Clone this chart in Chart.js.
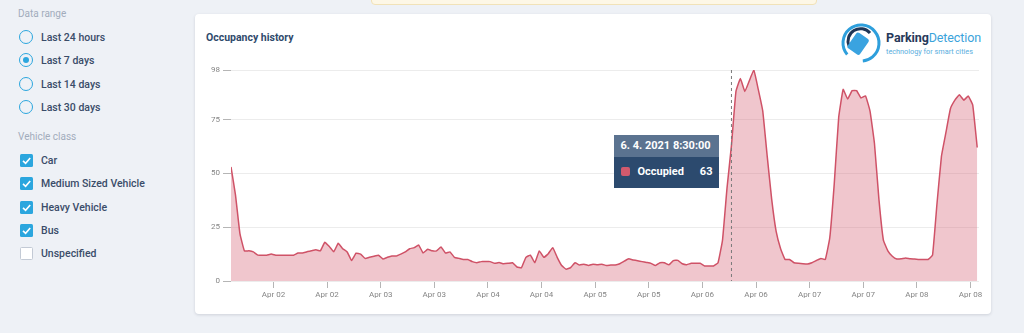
<!DOCTYPE html>
<html>
<head>
<meta charset="utf-8">
<script src="https://cdn.jsdelivr.net/npm/chart.js@4.4.0/dist/chart.umd.min.js"></script>
<style>
  body { margin: 0; width: 1024px; height: 333px; background: #eef1f6; font-family: Roboto, sans-serif; position: relative; overflow: hidden; }
  .notice { position: absolute; left: 371px; top: -6px; width: 444px; height: 9px; background: #fdf7e6; border: 1px solid #f1e2b8; border-radius: 4px; }
  .side { position: absolute; left: 18px; top: 0; }
  .side .head { position: absolute; left: 0; font-size: 10px; color: #a2acbc; white-space: nowrap; }
  .opt { position: absolute; left: 1px; height: 16px; white-space: nowrap; font-size: 10.5px; font-weight: 500; color: #3a4c69; }
  .opt span { position: absolute; left: 22px; top: 1px; }
  .radio { position: absolute; left: 0; top: 0; width: 12px; height: 12px; border: 1.6px solid #2ba6de; border-radius: 50%; }
  .radio.on::after { content: ''; position: absolute; left: 3px; top: 3px; width: 6px; height: 6px; border-radius: 50%; background: #2ba6de; }
  .check { position: absolute; left: 1px; top: 1px; width: 13px; height: 13px; border-radius: 1.5px; background: #2ba6de; }
  .check svg { position: absolute; left: 0; top: 0; }
  .check.off { background: #fff; border: 1.4px solid #c3cad5; width: 10.5px; height: 10.5px; }
  .card { position: absolute; left: 195px; top: 14px; width: 796px; height: 300px; background: #fff; border-radius: 4px; box-shadow: 0 1px 3px rgba(60,70,90,0.18); }
  .title { position: absolute; left: 206px; top: 31px; font-size: 10.5px; font-weight: 700; color: #2f4a6c; }
  .logo { position: absolute; left: 840px; top: 22px; }
  .logo .name { position: absolute; left: 46px; top: 8px; font-size: 12.5px; white-space: nowrap; color: #3aa3db; letter-spacing: -0.1px; }
  .logo .name b { color: #27395a; font-weight: 700; }
  .logo .sub { position: absolute; left: 46px; top: 25px; font-size: 7.3px; white-space: nowrap; color: #5aaede; }
  #wrap { position: absolute; left: 196px; top: 55px; width: 794px; height: 255px; }
  #tip { position: absolute; display: none; width: 105px; color: #fff; font-weight: 700; font-size: 11px; }
  #tip .tip-head { background: #5b7390; height: 22px; line-height: 22px; padding-left: 6px; }
  #tip .tip-body { background: #2c4a6e; height: 31px; position: relative; }
  #tip .sw { position: absolute; left: 7px; top: 10px; width: 9px; height: 9px; border-radius: 2px; background: #d25a6d; }
  #tip .tip-label { position: absolute; left: 23px; top: 8px; }
  #tip .tip-value { position: absolute; right: 7px; top: 8px; }
</style>
</head>
<body>
<div class="notice"></div>

<div class="side">
  <div class="head" style="top:8px">Data range</div>
  <div class="opt" style="top:30px"><div class="radio"></div><span>Last 24 hours</span></div>
  <div class="opt" style="top:53px"><div class="radio on"></div><span>Last 7 days</span></div>
  <div class="opt" style="top:77px"><div class="radio"></div><span>Last 14 days</span></div>
  <div class="opt" style="top:100px"><div class="radio"></div><span>Last 30 days</span></div>
  <div class="head" style="top:131px">Vehicle class</div>
  <div id="classes"></div>
</div>

<div class="card"></div>
<div class="title">Occupancy history</div>
<div class="logo">
  <svg width="42" height="42" viewBox="0 0 42 42">
    <circle cx="21" cy="21" r="18" fill="none" stroke="#2e9fdc" stroke-width="3" stroke-dasharray="95 18" transform="rotate(140 21 21)"/>
    <path d="M 9 24 A 12.5 12.5 0 0 1 30 11" fill="none" stroke="#1f3556" stroke-width="3"/>
    <rect x="11" y="12" width="15" height="19" rx="2.5" fill="#3aa3e0" transform="rotate(35 18 21)"/>
  </svg>
  <div class="name"><b>Parking</b>Detection</div>
  <div class="sub">technology for smart cities</div>
</div>

<div id="wrap"><canvas id="occupancy"></canvas></div>
<div id="tip">
  <div class="tip-head"></div>
  <div class="tip-body"><div class="sw"></div><div class="tip-label"></div><div class="tip-value"></div></div>
</div>

<script>
// vehicle classes shown in the side panel
const vehicleClasses = ['Car', 'Medium Sized Vehicle', 'Heavy Vehicle', 'Bus', 'Unspecified'];
const vehicleChecked = [true, true, true, true, false];

// hourly samples, first one is 1. 4. 2021 16:30
const startTime = Date.UTC(2021, 3, 1, 16, 30);
const stepHours = 1;
const occupied = [
  53, 40, 22, 14, 14, 13.5, 12, 12, 12, 12.5, 12, 12, 12, 12, 12, 13,
  13, 13.6, 14, 14.5, 14, 18, 16, 13.6, 17.5, 15, 13.5, 9.5, 12.9, 12.5, 10.5, 11,
  11.5, 12, 10.2, 11, 11.6, 11.6, 12.5, 13.5, 15, 15.5, 16.7, 13, 14.7, 14, 14, 15.8,
  13, 13.5, 11, 10.5, 10, 10, 9, 8.5, 9, 9, 9, 8.2, 8.6, 8, 8.2, 8.5,
  6.5, 6.2, 11, 12, 8.5, 14, 11, 12.7, 15.5, 11, 7.2, 5.5, 6.2, 8.5, 7.4, 7.8,
  7.2, 7.8, 7.5, 7.8, 7.2, 7.4, 7.4, 8, 9.2, 10.3, 9.8, 9.4, 9, 8.6, 8.2, 7.2,
  8.5, 8.5, 7.5, 9.5, 9.6, 8, 7.6, 8.2, 8.2, 8.2, 7, 7, 7, 8.5, 19, 43,
  63, 88, 94, 88, 93, 98, 89, 79, 58, 38, 23, 15, 10, 10, 8.5, 8.2,
  8, 7.9, 8.5, 9.5, 10.5, 10, 20, 45, 76, 89, 84.5, 88.4, 88.4, 85, 86, 79,
  64, 38, 19, 14, 11.5, 10.2, 10.3, 10.7, 10.3, 10.2, 10, 10, 10, 12, 36, 58,
  69, 80, 84, 86.5, 84, 85.9, 81.7, 62
];

const yTicks = [0, 25, 50, 75, 98];
const xTickHours = [9.5, 21.5, 33.5, 45.5, 57.5, 69.5, 81.5, 93.5, 105.5, 117.5, 129.5, 141.5, 153.5, 165.5];
const xTickLabels = ['Apr 02', 'Apr 02', 'Apr 03', 'Apr 03', 'Apr 04', 'Apr 04', 'Apr 05',
  'Apr 05', 'Apr 06', 'Apr 06', 'Apr 07', 'Apr 07', 'Apr 08', 'Apr 08'];

const hoverHour = 112; // 6. 4. 2021 8:30

// side panel checkboxes
let classesHtml = '';
vehicleClasses.forEach(function (name, i) {
  let top = 153 + i * 23.3;
  let box = vehicleChecked[i]
    ? '<div class="check"><svg width="13" height="13"><path d="M3 6.8 L5.6 9.3 L10.2 4" fill="none" stroke="#fff" stroke-width="1.6"/></svg></div>'
    : '<div class="check off"></div>';
  classesHtml += '<div class="opt" style="top:' + top + 'px">' + box + '<span>' + name + '</span></div>';
});
document.getElementById('classes').innerHTML = classesHtml;

function formatTime(hours) {
  let d = new Date(startTime + hours * 3600000);
  let pad = n => String(n).padStart(2, '0');
  return d.getUTCDate() + '. ' + (d.getUTCMonth() + 1) + '. ' + d.getUTCFullYear() + ' ' +
    d.getUTCHours() + ':' + pad(d.getUTCMinutes()) + ':' + pad(d.getUTCSeconds());
}

function externalTooltip(context) {
  const tooltip = context.tooltip;
  const el = document.getElementById('tip');
  if (tooltip.opacity === 0) {
    el.style.display = 'none';
    return;
  }
  const dp = tooltip.dataPoints[0];
  el.querySelector('.tip-head').textContent = tooltip.title[0];
  el.querySelector('.tip-label').textContent = dp.dataset.label;
  el.querySelector('.tip-value').textContent = dp.formattedValue;
  el.style.display = 'block';
  const canvas = context.chart.canvas;
  el.style.left = (canvas.parentNode.offsetLeft + tooltip.caretX - el.offsetWidth - 12) + 'px';
  el.style.top = (canvas.parentNode.offsetTop + tooltip.caretY - 10) + 'px';
}

// dashed line at hovered point
const hoverLine = {
  id: 'hoverLine',
  afterDatasetsDraw(chart) {
    const act = chart.tooltip.getActiveElements();
    if (!act.length) return;
    const x = act[0].element.x;
    const ctx = chart.ctx;
    ctx.save();
    ctx.strokeStyle = '#7a7a7a';
    ctx.lineWidth = 1;
    ctx.setLineDash([3, 3]);
    ctx.beginPath();
    ctx.moveTo(x, chart.chartArea.top);
    ctx.lineTo(x, chart.chartArea.bottom);
    ctx.stroke();
    ctx.restore();
  }
};

Chart.defaults.font.family = 'Roboto, sans-serif';

const points = occupied.map((v, i) => ({ x: i * stepHours, y: v }));

const chart = new Chart(document.getElementById('occupancy'), {
  type: 'line',
  data: {
    datasets: [{
      label: 'Occupied',
      data: points,
      borderColor: '#cf5267',
      backgroundColor: 'rgba(214, 100, 120, 0.37)',
      borderWidth: 1.5,
      fill: true,
      pointRadius: 0,
      pointHoverRadius: 0,
      tension: 0.1
    }]
  },
  options: {
    responsive: true,
    maintainAspectRatio: false,
    animation: false,
    layout: { padding: { left: 0, right: 11, top: 15, bottom: 0 } },
    interaction: { mode: 'index', intersect: false },
    plugins: {
      legend: { display: false },
      tooltip: {
        enabled: false,
        external: externalTooltip,
        callbacks: {
          title: items => formatTime(items[0].parsed.x)
        }
      }
    },
    scales: {
      x: {
        type: 'linear',
        min: 0,
        max: 167.4,
        afterBuildTicks: scale => { scale.ticks = xTickHours.map(v => ({ value: v })); },
        afterFit: scale => { scale.height = 29; },
        ticks: {
          autoSkip: false,
          maxRotation: 0,
          padding: 2,
          color: '#858585',
          font: { size: 8 },
          callback: (value, index) => xTickLabels[index]
        },
        grid: { drawOnChartArea: false, tickLength: 7, tickColor: '#b5b5b5' },
        border: { display: false }
      },
      y: {
        min: 0,
        max: 98,
        afterBuildTicks: scale => { scale.ticks = yTicks.map(v => ({ value: v })); },
        afterFit: scale => { scale.width = 35; },
        ticks: { padding: 3, color: '#858585', font: { size: 8 } },
        grid: { color: '#ececec', tickLength: 8, tickColor: '#b5b5b5' },
        border: { display: false }
      }
    }
  },
  plugins: [hoverLine]
});

const hoverPoint = chart.getDatasetMeta(0).data[hoverHour / stepHours];
chart.tooltip.setActiveElements([{ datasetIndex: 0, index: hoverHour / stepHours }], { x: hoverPoint.x, y: hoverPoint.y });
chart.update();
</script>
</body>
</html>
